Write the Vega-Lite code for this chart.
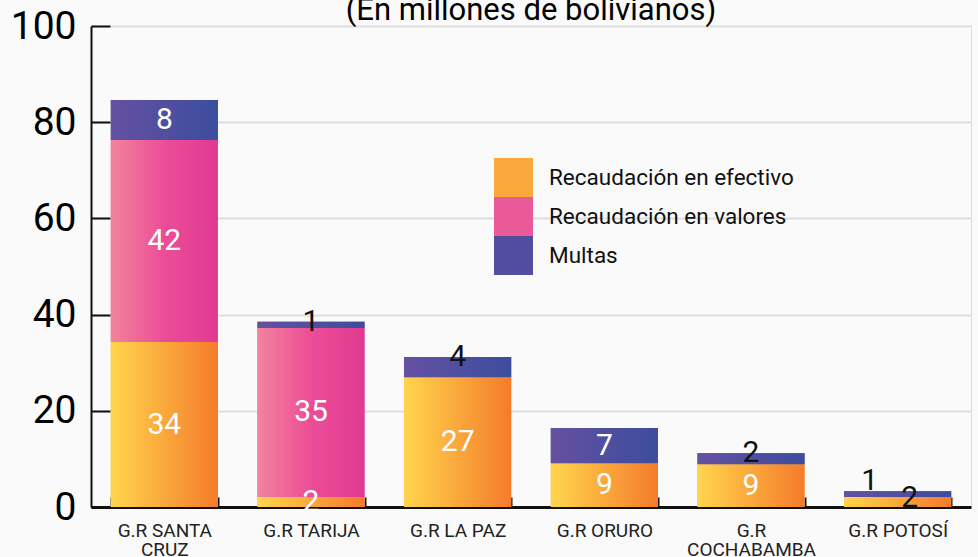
{
  "$schema": "https://vega.github.io/schema/vega-lite/v6.json",
  "width": 880,
  "height": 481,
  "autosize": {"type": "none"},
  "padding": {"left": 91, "top": 26, "right": 7, "bottom": 50},
  "background": "#fafafa",
  "title": {
    "text": "(En millones de bolivianos)",
    "font": "Roboto",
    "fontSize": 31,
    "fontWeight": "normal",
    "color": "#000000",
    "anchor": "middle",
    "frame": "group",
    "offset": -27,
    "dy": 16.5,
    "baseline": "alphabetic"
  },
  "data": {
    "values": [
      {"region": "G.R SANTA CRUZ", "series": "Recaudación en efectivo", "k": 1, "value": 34.3},
      {"region": "G.R SANTA CRUZ", "series": "Recaudación en valores", "k": 2, "value": 42.0},
      {"region": "G.R SANTA CRUZ", "series": "Multas", "k": 3, "value": 8.3},
      {"region": "G.R TARIJA", "series": "Recaudación en efectivo", "k": 1, "value": 2.1},
      {"region": "G.R TARIJA", "series": "Recaudación en valores", "k": 2, "value": 35.1},
      {"region": "G.R TARIJA", "series": "Multas", "k": 3, "value": 1.3},
      {"region": "G.R LA PAZ", "series": "Recaudación en efectivo", "k": 1, "value": 27.0},
      {"region": "G.R LA PAZ", "series": "Multas", "k": 3, "value": 4.2},
      {"region": "G.R ORURO", "series": "Recaudación en efectivo", "k": 1, "value": 9.1},
      {"region": "G.R ORURO", "series": "Multas", "k": 3, "value": 7.3},
      {"region": "G.R COCHABAMBA", "series": "Recaudación en efectivo", "k": 1, "value": 8.9},
      {"region": "G.R COCHABAMBA", "series": "Multas", "k": 3, "value": 2.3},
      {"region": "G.R POTOSÍ", "series": "Recaudación en efectivo", "k": 1, "value": 2.1},
      {"region": "G.R POTOSÍ", "series": "Multas", "k": 3, "value": 1.2}
    ]
  },
  "transform": [
    {"stack": "value", "groupby": ["region"], "sort": [{"field": "k", "order": "ascending"}], "as": ["v0", "v1"]},
    {"calculate": "(datum.v0 + datum.v1) / 2", "as": "mid"}
  ],
  "encoding": {
    "x": {
      "field": "region",
      "type": "nominal",
      "sort": null,
      "scale": {"paddingInner": 0.27, "paddingOuter": 0.135},
      "axis": {
        "title": null,
        "tickBand": "extent",
        "tickSize": -10,
        "tickColor": "#111111",
        "tickWidth": 2,
        "domainColor": "#111111",
        "domainWidth": 3,
        "labelAngle": 0,
        "labelFont": "Roboto",
        "labelFontSize": 19,
        "labelColor": "#222222",
        "labelLineHeight": 19,
        "labelPadding": 24,
        "labelExpr": "datum.value == 'G.R SANTA CRUZ' ? ['G.R SANTA', 'CRUZ'] : datum.value == 'G.R COCHABAMBA' ? ['G.R', 'COCHABAMBA'] : datum.value"
      }
    },
    "y": {
      "field": "v1",
      "type": "quantitative",
      "scale": {"domain": [0, 100], "nice": false},
      "axis": {
        "values": [0, 20, 40, 60, 80, 100],
        "title": null,
        "grid": true,
        "gridColor": "#dedede",
        "gridWidth": 2,
        "domainColor": "#111111",
        "domainWidth": 2,
        "tickColor": "#111111",
        "tickWidth": 2,
        "tickSize": -19,
        "labelFont": "Roboto",
        "labelFontSize": 39,
        "labelColor": "#000000",
        "labelPadding": 34
      }
    },
    "y2": {"field": "v0"}
  },
  "layer": [
    {
      "mark": {"type": "bar", "strokeWidth": 0},
      "encoding": {
        "color": {
          "field": "series",
          "type": "nominal",
          "scale": {
            "domain": ["Recaudación en efectivo", "Recaudación en valores", "Multas"],
            "range": ["#F9A83B", "#EA5A98", "#514EA0"]
          },
          "legend": {
            "orient": "none",
            "legendX": 403,
            "legendY": 132,
            "title": null,
            "symbolType": "square",
            "symbolSize": 1521,
            "symbolStrokeWidth": 0,
            "symbolOpacity": 1,
            "labelFont": "Roboto",
            "labelFontSize": 22.5,
            "labelLimit": 400,
            "labelColor": "#111111",
            "labelOffset": 16,
            "rowPadding": 0,
            "padding": 0,
            "encode": {
              "symbols": {
                "update": {
                  "fill": [
                    {"test": "datum.value == 'Multas'", "value": {"gradient": "linear", "x1": 0, "y1": 0, "x2": 1, "y2": 0, "stops": [{"offset": 0, "color": "#6550A1"}, {"offset": 1, "color": "#3C4D9E"}]}},
                    {"test": "datum.value == 'Recaudación en valores'", "value": {"gradient": "linear", "x1": 0, "y1": 0, "x2": 1, "y2": 0, "stops": [{"offset": 0, "color": "#F2839B"}, {"offset": 0.5, "color": "#EC4D97"}, {"offset": 1, "color": "#E03A92"}]}},
                    {"value": {"gradient": "linear", "x1": 0, "y1": 0, "x2": 1, "y2": 0, "stops": [{"offset": 0, "color": "#FFD54C"}, {"offset": 1, "color": "#F47B2B"}]}}
                  ]
                }
              }
            }
          }
        }
      }
    },
    {
      "transform": [{"filter": "datum.series == 'Recaudación en efectivo'"}],
      "mark": {"type": "bar", "strokeWidth": 0, "color": {"gradient": "linear", "x1": 0, "y1": 0, "x2": 1, "y2": 0, "stops": [{"offset": 0, "color": "#FFD54C"}, {"offset": 1, "color": "#F47B2B"}]}}
    },
    {
      "transform": [{"filter": "datum.series == 'Recaudación en valores'"}],
      "mark": {"type": "bar", "strokeWidth": 0, "color": {"gradient": "linear", "x1": 0, "y1": 0, "x2": 1, "y2": 0, "stops": [{"offset": 0, "color": "#F2839B"}, {"offset": 0.5, "color": "#EC4D97"}, {"offset": 1, "color": "#E03A92"}]}}
    },
    {
      "transform": [{"filter": "datum.series == 'Multas'"}],
      "mark": {"type": "bar", "strokeWidth": 0, "color": {"gradient": "linear", "x1": 0, "y1": 0, "x2": 1, "y2": 0, "stops": [{"offset": 0, "color": "#6550A1"}, {"offset": 1, "color": "#3C4D9E"}]}}
    },
    {
      "transform": [{"filter": "datum.region != 'G.R POTOSÍ' && !(datum.series == 'Multas' && datum.value < 5)"}],
      "mark": {"type": "text", "font": "Roboto", "fontSize": 30, "baseline": "middle", "color": "#ffffff"},
      "encoding": {
        "y": {"field": "mid", "type": "quantitative"},
        "y2": null,
        "text": {"field": "value", "type": "quantitative", "format": ".0f"}
      }
    },
    {
      "transform": [{"filter": "datum.region != 'G.R POTOSÍ' && datum.series == 'Multas' && datum.value < 5"}],
      "mark": {"type": "text", "font": "Roboto", "fontSize": 30, "baseline": "middle", "color": "#111111"},
      "encoding": {
        "y": {"field": "v1", "type": "quantitative"},
        "y2": null,
        "text": {"field": "value", "type": "quantitative", "format": ".0f"}
      }
    },
    {
      "transform": [{"filter": "datum.region == 'G.R POTOSÍ' && datum.series == 'Multas'"}],
      "mark": {"type": "text", "font": "Roboto", "fontSize": 30, "baseline": "middle", "color": "#111111", "dx": -28, "dy": -10},
      "encoding": {
        "y": {"field": "v1", "type": "quantitative"},
        "y2": null,
        "text": {"field": "value", "type": "quantitative", "format": ".0f"}
      }
    },
    {
      "transform": [{"filter": "datum.region == 'G.R POTOSÍ' && datum.series == 'Recaudación en efectivo'"}],
      "mark": {"type": "text", "font": "Roboto", "fontSize": 30, "baseline": "middle", "color": "#111111", "dx": 12, "dy": -4},
      "encoding": {
        "y": {"field": "mid", "type": "quantitative"},
        "y2": null,
        "text": {"field": "value", "type": "quantitative", "format": ".0f"}
      }
    }
  ]
}
